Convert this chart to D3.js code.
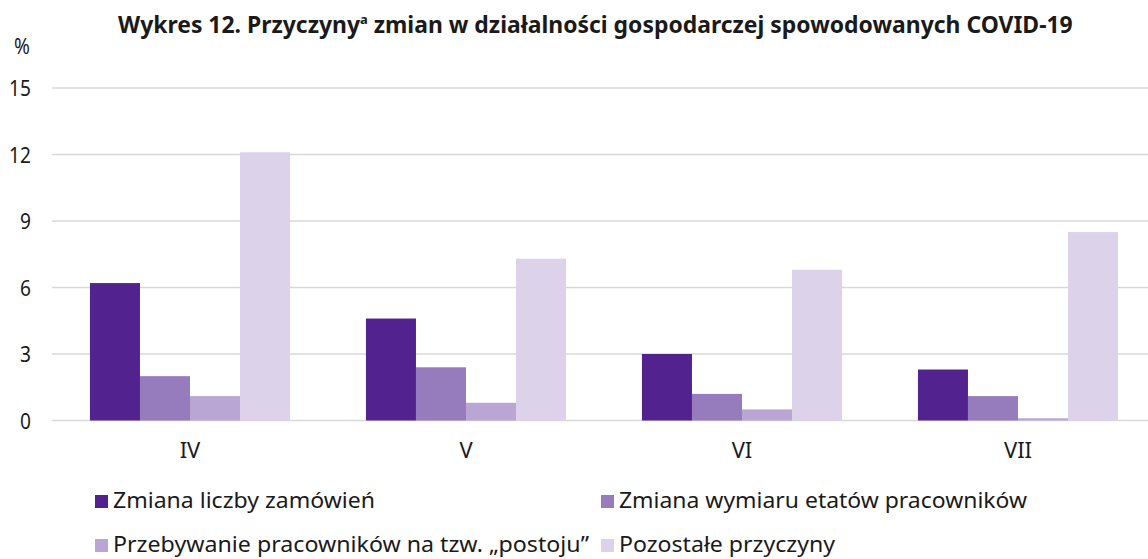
<!DOCTYPE html>
<html><head><meta charset="utf-8">
<script src="https://cdn.jsdelivr.net/npm/d3@7"></script>
<style>body{margin:0;background:#fff}svg{display:block}text{font-family:"Noto Sans",sans-serif;fill:#1a1a1a}</style>
</head><body>
<svg id="c" width="1148" height="559"></svg>
<script>
const categories = ["IV", "V", "VI", "VII"];
const seriesNames = ["Zmiana liczby zamówień", "Zmiana wymiaru etatów pracowników", "Przebywanie pracowników na tzw. „postoju”", "Pozostałe przyczyny"];
const zamowien = [6.2, 4.6, 3.0, 2.3];
const etatow = [2.0, 2.4, 1.2, 1.1];
const postoju = [1.1, 0.8, 0.5, 0.1];
const pozostale = [12.1, 7.3, 6.8, 8.5];
const yTicks = [0, 3, 6, 9, 12, 15];
const colors = ["#52238f", "#967bbd", "#baa6d4", "#dcd2ea"];
const series = [zamowien, etatow, postoju, pozostale];

const svg = d3.select("#c");
const x = d3.scaleBand().domain(categories).range([52, 1156]).paddingInner(0.275).paddingOuter(0.1375);
const xs = d3.scaleBand().domain(d3.range(4)).range([0, x.bandwidth()]);
const y = d3.scaleLinear().domain([0, 15]).range([420.5, 88]);

// gridlines
svg.append("g").selectAll("line").data(yTicks).join("line")
  .attr("x1", 52).attr("x2", 1148).attr("y1", d => y(d)).attr("y2", d => y(d))
  .attr("stroke", "#d9d9d9").attr("stroke-width", 1.5);

// y labels
const SX = 0.87;
svg.append("g").selectAll("text").data(yTicks).join("text")
  .attr("transform", d => `translate(31,${y(d) + 8}) scale(${SX},1)`)
  .attr("text-anchor", "end").attr("font-size", 22).text(d => d);
svg.append("text").attr("transform", `translate(22,54) scale(${SX},1)`)
  .attr("text-anchor", "middle").attr("font-size", 22).text("%");

// bars
const g = svg.append("g");
categories.forEach((c, i) => {
  series.forEach((s, k) => {
    g.append("rect")
      .attr("x", x(c) + xs(k)).attr("width", xs.bandwidth())
      .attr("y", y(s[i])).attr("height", y(0) - y(s[i]))
      .attr("fill", colors[k]);
  });
});

// x labels
svg.append("g").selectAll("text").data(categories).join("text")
  .attr("x", d => x(d) + x.bandwidth() / 2).attr("y", 457.5)
  .attr("text-anchor", "middle").attr("font-size", 22).text(d => d);

// title
const t = svg.append("text").attr("x", 118).attr("y", 33).style("font-size", "23px").style("font-weight", "bold");
t.append("tspan").text("Wykres 12. Przyczyny");
t.append("tspan").style("font-size", "13px").attr("dy", -9).text("a");
t.append("tspan").attr("dy", 9).text(" zmian w działalności gospodarczej spowodowanych COVID-19");
const tw = t.node().getComputedTextLength();
t.attr("transform", `translate(118,0) scale(${955/tw},1) translate(-118,0)`);

// legend
const legPos = [[95, 508, 262], [601, 508, 408], [95, 552, 476], [601, 552, 216]];
seriesNames.forEach((n, k) => {
  const [lx, ly, w] = legPos[k];
  svg.append("rect").attr("x", lx).attr("y", ly - 13).attr("width", 13).attr("height", 13).attr("fill", colors[k]);
  svg.append("text").attr("x", lx + 18).attr("y", ly).style("font-size", "21px")
    .attr("textLength", w).attr("lengthAdjust", "spacingAndGlyphs").text(n);
});
</script>
</body></html>
